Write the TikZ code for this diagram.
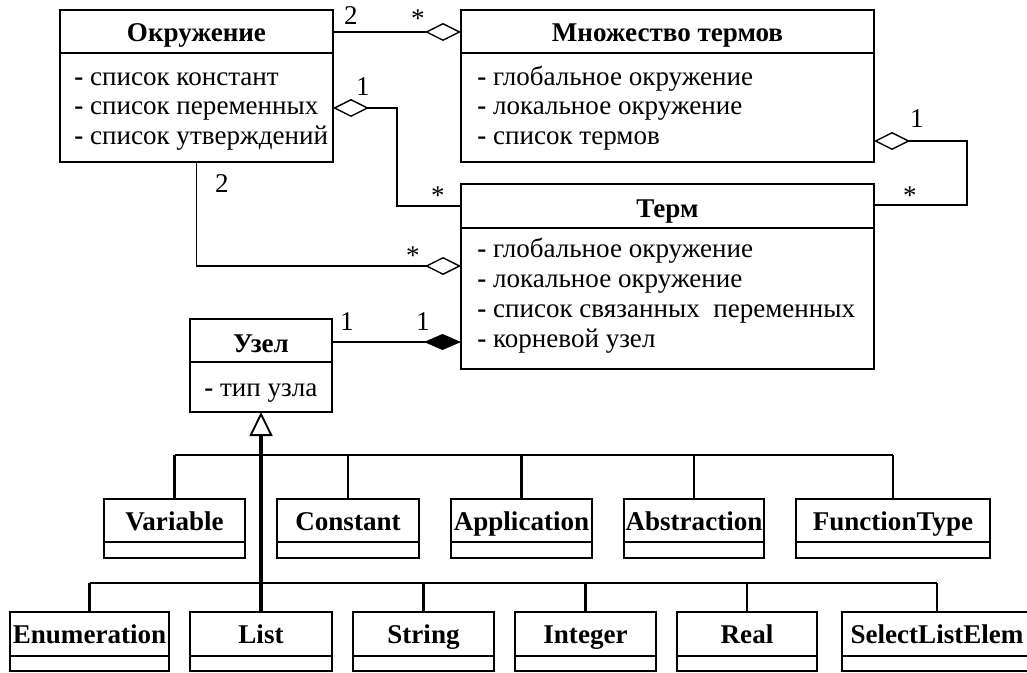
\documentclass[tikz,border=0pt]{standalone}
\usepackage{fontspec}
\setmainfont{Liberation Serif}
\usetikzlibrary{arrows.meta}
\newcommand{\attrdash}{{\bfseries -}\ }
\begin{document}
\begin{tikzpicture}[x=0.75pt,y=-0.75pt,
  box/.style={draw,line width=1.5pt,inner sep=0pt,outer sep=0pt,rectangle},
  leaf/.style={box,minimum height=44.25pt},
  ttl/.style={font=\fontsize{20.3}{22}\selectfont\bfseries,anchor=base,inner sep=0pt},
  attr/.style={font=\fontsize{20.3}{22}\selectfont,anchor=base west,inner sep=0pt},
  mult/.style={font=\fontsize{20.3}{22}\selectfont,anchor=base,inner sep=0pt},
  conn/.style={line width=1.45pt},
  sepline/.style={line width=1.5pt},
  bus/.style={line width=1.6pt},
  aggS/.style={{Diamond[open,length=27pt,width=13.5pt,line width=1.05pt]}-},
  aggE/.style={-{Diamond[open,length=27pt,width=13.5pt,line width=1.05pt]}},
  compE/.style={-{Diamond[length=27.75pt,width=12pt]}},
  genE/.style={-{Triangle[open,length=18pt,width=17.25pt,line width=1.4pt]}}
]
\useasboundingbox (0,0) rectangle (1027,673);

% class boxes
\node[box,minimum width=204.75pt,minimum height=114pt] (env) at (196.5,86) {};
\node[box,minimum width=309.75pt,minimum height=114pt] (set) at (667.5,86) {};
\node[box,minimum width=309.75pt,minimum height=138.75pt] (term) at (667.5,276.5) {};
\node[box,minimum width=106.5pt,minimum height=69.75pt] (uzel) at (261,365.5) {};

\draw[sepline] (env.west |- 0,53) -- (env.east |- 0,53);
\draw[sepline] (set.west |- 0,53) -- (set.east |- 0,53);
\draw[sepline] (term.west |- 0,228) -- (term.east |- 0,228);
\draw[sepline] (uzel.west |- 0,362) -- (uzel.east |- 0,362);

% titles and attributes
\node[ttl] (envT) at (196.5,42) {Окружение};
\node[attr] (envA1) at (74,86) {\attrdash список констант};
\node[attr] (envA2) at (74,115) {\attrdash список переменных};
\node[attr] (envA3) at (74,145) {\attrdash список утверждений};

\node[ttl] (setT) at (667.5,42) {Множество термов};
\node[attr] (setA1) at (477,86) {\attrdash глобальное окружение};
\node[attr] (setA2) at (477,115) {\attrdash локальное окружение};
\node[attr] (setA3) at (477,145) {\attrdash список термов};

\node[ttl] (termT) at (667.5,218) {Терм};
\node[attr] (termA1) at (477,258) {\attrdash глобальное окружение};
\node[attr] (termA2) at (477,288) {\attrdash локальное окружение};
\node[attr] (termA3) at (477,318) {\attrdash список связанных\ \ переменных};
\node[attr] (termA4) at (477,347) {\attrdash корневой узел};

\node[ttl] (uzelT) at (261,352) {Узел};
\node[attr] (uzelA1) at (204,396) {\attrdash тип узла};

% subclasses, first row
\node[leaf,minimum width=105.75pt] (var) at (174.5,528.5) {};
\node[leaf,minimum width=106.5pt] (const) at (348,528.5) {};
\node[leaf,minimum width=105.75pt] (app) at (521.5,528.5) {};
\node[leaf,minimum width=105pt] (abs) at (694,528.5) {};
\node[leaf,minimum width=145.5pt] (ftype) at (893,528.5) {};
\foreach \n in {var,const,app,abs,ftype}
  \draw[sepline] (\n.west |- 0,542) -- (\n.east |- 0,542);
\node[ttl] (varT) at (174.5,530) {Variable};
\node[ttl] (constT) at (348,530) {Constant};
\node[ttl] (appT) at (521.5,530) {Application};
\node[ttl] (absT) at (694,530) {Abstraction};
\node[ttl] (ftypeT) at (893,530) {FunctionType};

% subclasses, second row
\node[leaf,minimum width=119.25pt] (enum) at (89.5,641.5) {};
\node[leaf,minimum width=106.5pt] (list) at (261,641.5) {};
\node[leaf,minimum width=105.75pt] (str) at (423.5,641.5) {};
\node[leaf,minimum width=105.75pt] (int) at (585.5,641.5) {};
\node[leaf,minimum width=105pt] (real) at (747,641.5) {};
\node[leaf,minimum width=142.5pt] (sel) at (937,641.5) {};
\foreach \n in {enum,list,str,int,real,sel}
  \draw[sepline] (\n.west |- 0,656) -- (\n.east |- 0,656);
\node[ttl] (enumT) at (89.5,643) {Enumeration};
\node[ttl] (listT) at (261,643) {List};
\node[ttl] (strT) at (423.5,643) {String};
\node[ttl] (intT) at (585.5,643) {Integer};
\node[ttl] (realT) at (747,643) {Real};
\node[ttl] (selT) at (937,643) {SelectListElem};

% associations
\draw[conn,aggE] (env.east |- 0,32) -- (set.west |- 0,32);
\draw[conn,aggS] (env.east |- 0,108) -- (397,108) -- (397,206) -- (term.west |- 0,206);
\draw[conn,aggE] (env.south) |- (term.west |- 0,266);
\draw[conn,aggS] (set.east |- 0,141) -- (967,141) |- (term.east |- 0,205);
\draw[conn,compE] (uzel.east |- 0,342) -- (term.west |- 0,342);

% generalization
\coordinate (bus1) at (261,455);
\coordinate (bus2) at (261,583);
\draw[bus] (var.north |- bus1) -- (ftype.north |- bus1);
\foreach \n in {var,const,app,abs,ftype}
  \draw[bus] (\n.north) -- (\n.north |- bus1);
\draw[bus] (enum.north |- bus2) -- (sel.north |- bus2);
\foreach \n in {enum,str,int,real,sel}
  \draw[bus] (\n.north) -- (\n.north |- bus2);
\draw[line width=2.4pt,genE] (list.north) -- (uzel.south);

% multiplicities
\node[mult] (m1) at (351,25) {2};
\node[mult] (m2) at (418,28) {*};
\node[mult] (m3) at (363,96) {1};
\node[mult] (m4) at (438,205) {*};
\node[mult] (m5) at (222,193) {2};
\node[mult] (m6) at (413,265) {*};
\node[mult] (m7) at (917,128) {1};
\node[mult] (m8) at (910,205) {*};
\node[mult] (m9) at (347,330) {1};
\node[mult] (m10) at (423,330) {1};
\end{tikzpicture}
\end{document}
